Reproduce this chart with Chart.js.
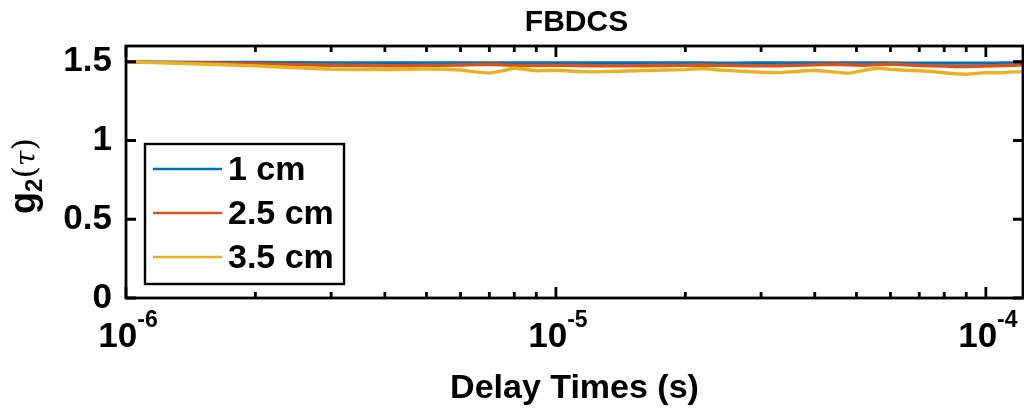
<!DOCTYPE html>
<html>
<head>
<meta charset="utf-8">
<script src="https://cdn.jsdelivr.net/npm/chart.js@4/dist/chart.umd.min.js"></script>
<style>
  html, body { margin: 0; padding: 0; background: #ffffff; }
  #wrap { width: 1024px; height: 410px; }
</style>
</head>
<body>
<div id="wrap"><canvas id="c" width="1024" height="410"></canvas></div>
<script>
// Delay times (s) of the correlator bins
const delayTimes = [1e-6, 1.2e-6, 1.5e-6, 2e-6, 2.5e-6, 3e-6, 3.5e-6, 4e-6, 4.5e-6, 5e-6,
  5.5e-6, 6e-6, 6.5e-6, 7e-6, 7.5e-6, 8e-6, 9e-6, 1e-5, 1.1e-5, 1.2e-5,
  1.4e-5, 1.6e-5, 1.8e-5, 2e-5, 2.2e-5, 2.4e-5, 2.6e-5, 2.8e-5, 3e-5, 3.3e-5,
  3.6e-5, 4e-5, 4.4e-5, 4.8e-5, 5.2e-5, 5.6e-5, 6e-5, 6.5e-5, 7e-5, 7.5e-5,
  8e-5, 8.5e-5, 9e-5, 9.5e-5, 1e-4, 1.05e-4, 1.1e-4, 1.16e-4, 1.22e-4];

// g2(tau) for each source-detector separation
const g2_1cm = [1.498, 1.497, 1.496, 1.495, 1.494, 1.493, 1.493, 1.492, 1.492, 1.492,
  1.492, 1.492, 1.492, 1.492, 1.492, 1.492, 1.492, 1.492, 1.492, 1.492,
  1.492, 1.492, 1.492, 1.492, 1.492, 1.491, 1.491, 1.492, 1.492, 1.492,
  1.492, 1.492, 1.492, 1.492, 1.492, 1.492, 1.492, 1.491, 1.491, 1.491,
  1.491, 1.491, 1.491, 1.491, 1.491, 1.491, 1.492, 1.493, 1.497];
const g2_25cm = [1.498, 1.496, 1.492, 1.487, 1.482, 1.478, 1.476, 1.475, 1.475, 1.476,
  1.477, 1.479, 1.482, 1.484, 1.480, 1.477, 1.476, 1.477, 1.476, 1.475,
  1.474, 1.475, 1.476, 1.477, 1.479, 1.477, 1.476, 1.475, 1.474, 1.475,
  1.477, 1.480, 1.484, 1.481, 1.478, 1.482, 1.485, 1.480, 1.476, 1.474,
  1.472, 1.470, 1.470, 1.471, 1.473, 1.475, 1.476, 1.478, 1.480];
const g2_35cm = [1.500, 1.494, 1.486, 1.474, 1.462, 1.452, 1.450, 1.451, 1.452, 1.453,
  1.452, 1.448, 1.436, 1.428, 1.442, 1.460, 1.443, 1.446, 1.440, 1.436,
  1.440, 1.444, 1.448, 1.450, 1.457, 1.448, 1.442, 1.438, 1.433, 1.431,
  1.438, 1.446, 1.436, 1.426, 1.445, 1.460, 1.452, 1.446, 1.443, 1.438,
  1.430, 1.424, 1.421, 1.426, 1.431, 1.430, 1.432, 1.436, 1.436];

const seriesLabels = ['1 cm', '2.5 cm', '3.5 cm'];
const seriesColors = ['#0072BD', '#D95319', '#EDB120'];
const yTickValues = [0, 0.5, 1, 1.5];
const xDecades = [1e-6, 1e-5, 1e-4];
const xDecadeExponents = ['-6', '-5', '-4'];

const FONT = '"Liberation Sans", Arial, Helvetica, sans-serif';

function toPoints(ys) {
  return delayTimes.map((t, i) => ({ x: t, y: ys[i] }));
}

// Axes box, inward tick marks, exponent tick labels, axis titles, title and legend
const matlabAxes = {
  id: 'matlabAxes',
  afterDatasetsDraw(chart) {
    const { ctx, chartArea: a, scales } = chart;
    const xs = scales.x, ys = scales.y;
    ctx.save();
    ctx.strokeStyle = '#000';
    ctx.lineWidth = 2.8;
    ctx.lineCap = 'butt';

    // box
    ctx.strokeRect(a.left, a.top, a.right - a.left, a.bottom - a.top);

    // x ticks (major + minor), bottom and top
    ctx.beginPath();
    const xmin = xs.min, xmax = xs.max;
    xDecades.forEach(d => {
      for (let m = 1; m <= 9; m++) {
        const v = d * m;
        if (v < xmin * 0.999 || v > xmax * 1.001) continue;
        const px = xs.getPixelForValue(v);
        const len = m === 1 ? 11 : 6;
        ctx.moveTo(px, a.bottom); ctx.lineTo(px, a.bottom - len);
        ctx.moveTo(px, a.top); ctx.lineTo(px, a.top + len);
      }
    });
    // y ticks, left and right
    yTickValues.forEach(v => {
      const py = ys.getPixelForValue(v);
      ctx.moveTo(a.left, py); ctx.lineTo(a.left + 10, py);
      ctx.moveTo(a.right, py); ctx.lineTo(a.right - 10, py);
    });
    ctx.stroke();

    // x tick labels: 10 with a superscript exponent
    ctx.fillStyle = '#000';
    ctx.textBaseline = 'alphabetic';
    xDecades.forEach((d, i) => {
      const px = xs.getPixelForValue(d);
      ctx.font = 'bold 35px ' + FONT;
      const wBase = ctx.measureText('10').width;
      ctx.font = 'bold 23px ' + FONT;
      const wExp = ctx.measureText(xDecadeExponents[i]).width;
      const x0 = px - (wBase + wExp) / 2 + 2;
      ctx.font = 'bold 35px ' + FONT;
      ctx.textAlign = 'left';
      ctx.fillText('10', x0, a.bottom + 49);
      ctx.font = 'bold 23px ' + FONT;
      ctx.fillText(xDecadeExponents[i], x0 + wBase, a.bottom + 29);
    });

    // x axis title
    ctx.textAlign = 'center';
    ctx.textBaseline = 'middle';
    ctx.font = 'bold 34px ' + FONT;
    ctx.fillText('Delay Times (s)', (a.left + a.right) / 2, 389);

    // chart title
    ctx.font = 'bold 30px ' + FONT;
    ctx.fillText('FBDCS', (a.left + a.right) / 2 + 2, 23);

    // y axis title: g_2(tau), rotated
    ctx.save();
    ctx.translate(35, 176);
    ctx.rotate(-Math.PI / 2);
    ctx.textBaseline = 'alphabetic';
    ctx.textAlign = 'left';
    const parts = [
      { t: 'g', f: 'bold 36px ' + FONT, dy: 0 },
      { t: '2', f: 'bold 24px ' + FONT, dy: 7 },
      { t: '(', f: '32px "DejaVu Serif", serif', dy: 0 },
      { t: 'τ', f: 'italic 28px "DejaVu Serif", serif', dy: 0 },
      { t: ')', f: '32px "DejaVu Serif", serif', dy: 0 }
    ];
    let total = 0;
    parts.forEach(p => { ctx.font = p.f; p.w = ctx.measureText(p.t).width; total += p.w; });
    let cx = -total / 2;
    parts.forEach(p => { ctx.font = p.f; ctx.fillText(p.t, cx, p.dy); cx += p.w; });
    ctx.restore();

    // legend
    const lg = { x: 145, y: 144, w: 199, h: 140 };
    ctx.fillStyle = '#fff';
    ctx.fillRect(lg.x, lg.y, lg.w, lg.h);
    ctx.lineWidth = 2.4;
    ctx.strokeStyle = '#000';
    ctx.strokeRect(lg.x, lg.y, lg.w, lg.h);
    const rows = [169, 213, 257];
    ctx.textAlign = 'left';
    ctx.textBaseline = 'middle';
    ctx.font = 'bold 34px ' + FONT;
    seriesLabels.forEach((lab, i) => {
      ctx.strokeStyle = seriesColors[i];
      ctx.lineWidth = 2.6;
      ctx.beginPath();
      ctx.moveTo(153, rows[i]); ctx.lineTo(222, rows[i]);
      ctx.stroke();
      ctx.fillStyle = '#000';
      ctx.fillText(lab, 228, rows[i] + 2);
    });
    ctx.restore();
  }
};

const datasets = [g2_1cm, g2_25cm, g2_35cm].map((ys, i) => ({
  label: seriesLabels[i],
  data: toPoints(ys),
  borderColor: seriesColors[i],
  borderWidth: 3.4,
  pointRadius: 0,
  tension: 0,
  fill: false,
  order: 3 - i
}));

new Chart(document.getElementById('c'), {
  type: 'line',
  data: { datasets },
  options: {
    responsive: false,
    animation: false,
    devicePixelRatio: 1,
    layout: { padding: { top: 46, right: 1, left: 0, bottom: 0 } },
    plugins: { legend: { display: false }, title: { display: false }, tooltip: { enabled: false } },
    scales: {
      x: {
        type: 'logarithmic',
        min: 1e-6,
        max: 1.22e-4,
        grid: { display: false, drawTicks: false },
        border: { display: false },
        ticks: { display: false },
        afterFit(scale) { scale.height = 112; }
      },
      y: {
        type: 'linear',
        min: 0,
        max: 1.6,
        grid: { display: false, drawTicks: false },
        border: { display: false },
        afterBuildTicks(scale) { scale.ticks = yTickValues.map(v => ({ value: v })); },
        ticks: {
          color: '#000',
          padding: 14,
          font: { family: FONT, size: 35, weight: 'bold' },
          callback: v => String(v)
        },
        afterFit(scale) { scale.width = 126; }
      }
    }
  },
  plugins: [matlabAxes]
});
</script>
</body>
</html>
